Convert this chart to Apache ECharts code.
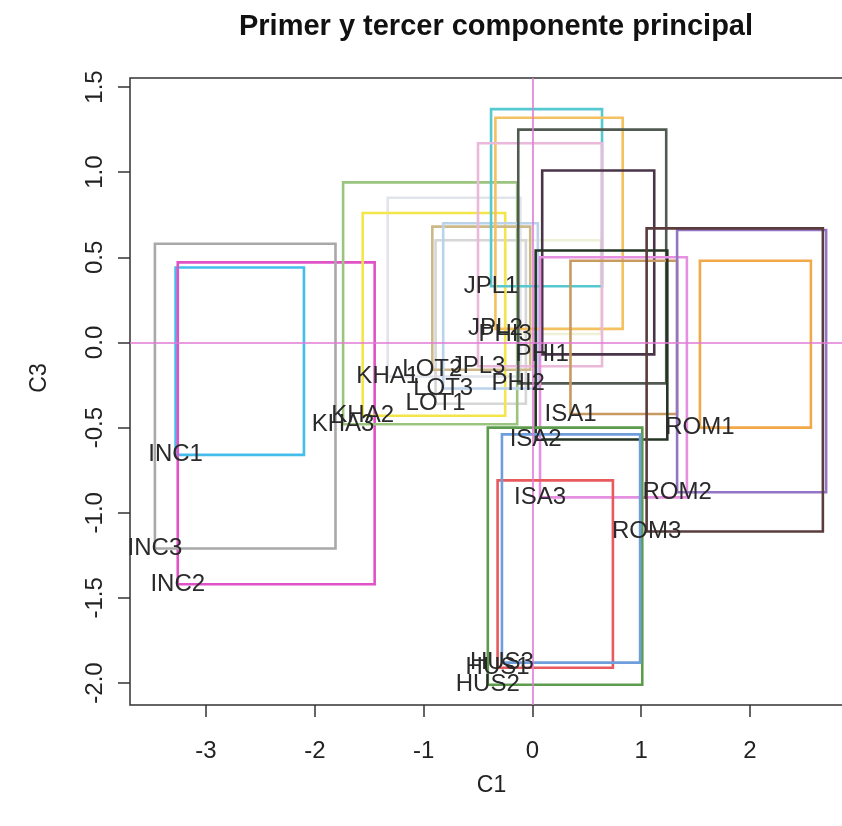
<!DOCTYPE html>
<html>
<head>
<meta charset="utf-8">
<script src="https://cdn.jsdelivr.net/npm/echarts@6/dist/echarts.min.js"></script>
<style>
  html, body { margin: 0; padding: 0; background: #ffffff; }
  #chart { width: 842px; height: 826px; }
</style>
</head>
<body>
<div id="chart"></div>
<script>
// Interval-valued PCA: each individual is a rectangle [C1 min, C1 max] x [C3 min, C3 max]
const names = ['KHA1', 'PHI3', 'LOT1', 'INC1', 'INC2', 'INC3', 'KHA2', 'KHA3', 'LOT2', 'LOT3',
               'JPL1', 'JPL2', 'JPL3', 'PHI1', 'PHI2', 'ISA1', 'ISA2', 'ISA3',
               'HUS1', 'HUS2', 'HUS3', 'ROM1', 'ROM2', 'ROM3'];
const c1Min = [-1.33, -0.25, -0.89, -3.28, -3.26, -3.47, -1.56, -1.74, -0.92, -0.82,
               -0.38, -0.34, -0.50,  0.09, -0.13,  0.35,  0.03,  0.07,
               -0.32, -0.41, -0.28,  1.54,  1.33,  1.05];
const c1Max = [-0.11,  0.63, -0.06, -2.10, -1.45, -1.81, -0.25, -0.14, -0.02,  0.05,
                0.64,  0.83,  0.64,  1.12,  1.23,  1.33,  1.24,  1.42,
                0.74,  1.01,  0.99,  2.56,  2.70,  2.67];
const c3Min = [-0.20,  0.05, -0.36, -0.66, -1.42, -1.21, -0.43, -0.48, -0.16, -0.27,
                0.33,  0.08, -0.14, -0.07, -0.24, -0.42, -0.57, -0.91,
               -1.91, -2.01, -1.88, -0.50, -0.88, -1.11];
const c3Max = [ 0.85,  0.60,  0.60,  0.44,  0.47,  0.58,  0.76,  0.94,  0.68,  0.70,
                1.37,  1.32,  1.17,  1.01,  1.25,  0.48,  0.54,  0.50,
               -0.81, -0.50, -0.54,  0.48,  0.66,  0.67];
const boxColors = ['#E2E4EC', '#EEF0D8', '#D6D6D6', '#45BDEB', '#E052C6', '#A9A9A9', '#F3E64A', '#9BC57F', '#CDB888', '#B9D4EA',
                   '#55C8D0', '#F5C060', '#EAB8D8', '#4A3448', '#505A50', '#C89A62', '#263426', '#E590E0',
                   '#E85A5E', '#5C9C4C', '#6E9EDC', '#F2A848', '#9474C4', '#5A3C3C'];

const xTicks = [-3, -2, -1, 0, 1, 2];
const yTicks = [-2.0, -1.5, -1.0, -0.5, 0.0, 0.5, 1.0, 1.5];

const boxData = names.map((n, i) => [c1Min[i], c1Max[i], c3Min[i], c3Max[i]]);
const labelData = names.map((n, i) => [c1Min[i], c3Min[i], n]);

const FONT = 'Liberation Sans, Arial, Helvetica, sans-serif';

const chart = echarts.init(document.getElementById('chart'), null, { renderer: 'canvas' });

chart.setOption({
  backgroundColor: '#ffffff',
  animation: false,
  title: {
    text: 'Primer y tercer componente principal',
    left: 491,
    textAlign: 'center',
    top: 7,
    textStyle: { fontFamily: FONT, fontSize: 29, fontWeight: 'bold', color: '#111' }
  },
  graphic: [{
    type: 'text',
    x: 40, y: 378,
    rotation: Math.PI / 2,
    style: { text: 'C3', fontFamily: FONT, fontSize: 23, fill: '#222', align: 'center', verticalAlign: 'middle' }
  }],
  grid: {
    left: 130, top: 78, width: 723, height: 627,
    outerBoundsMode: 'none',
    containLabel: false,
    show: true, borderColor: '#333', borderWidth: 1.5, backgroundColor: 'transparent'
  },
  xAxis: {
    type: 'value',
    min: -3.699, max: 2.947,
    name: 'C1', nameLocation: 'middle', nameGap: 69,
    nameTextStyle: { fontFamily: FONT, fontSize: 23, color: '#222' },
    axisLine: { show: false, onZero: false },
    splitLine: { show: false },
    axisTick: { show: true, length: 12, customValues: xTicks, lineStyle: { color: '#333', width: 1.5 } },
    axisLabel: { customValues: xTicks, fontFamily: FONT, fontSize: 24, color: '#222', margin: 34 }
  },
  yAxis: {
    type: 'value',
    min: -2.129, max: 1.553,
    axisLine: { show: false, onZero: false },
    splitLine: { show: false },
    axisTick: { show: true, length: 12, customValues: yTicks, lineStyle: { color: '#333', width: 1.5 } },
    axisLabel: {
      customValues: yTicks, rotate: 90, fontFamily: FONT, fontSize: 24, color: '#222', margin: 23,
      formatter: v => Number(v).toFixed(1)
    }
  },
  series: [
    {
      type: 'custom',
      name: 'rects',
      coordinateSystem: 'cartesian2d',
      data: boxData,
      encode: { x: [0, 1], y: [2, 3] },
      z: 2,
      silent: true,
      renderItem: (params, api) => {
        const tl = api.coord([api.value(0), api.value(3)]);
        const br = api.coord([api.value(1), api.value(2)]);
        return {
          type: 'rect',
          shape: { x: tl[0], y: tl[1], width: br[0] - tl[0], height: br[1] - tl[1] },
          style: { fill: 'none', stroke: boxColors[params.dataIndex], lineWidth: 2.6 }
        };
      },
      markLine: {
        silent: true,
        symbol: 'none',
        label: { show: false },
        lineStyle: { color: '#E27AD6', width: 1.6, type: 'solid' },
        data: [{ xAxis: 0 }, { yAxis: 0 }]
      }
    },
    {
      type: 'custom',
      name: 'labels',
      coordinateSystem: 'cartesian2d',
      data: labelData,
      encode: { x: 0, y: 1 },
      z: 5,
      silent: true,
      renderItem: (params, api) => {
        const p = api.coord([api.value(0), api.value(1)]);
        return {
          type: 'text',
          x: p[0], y: p[1],
          style: {
            text: labelData[params.dataIndex][2],
            fontFamily: FONT, fontSize: 24, fill: '#2a2a2a',
            align: 'center', verticalAlign: 'middle'
          }
        };
      }
    }
  ]
});
</script>
</body>
</html>
